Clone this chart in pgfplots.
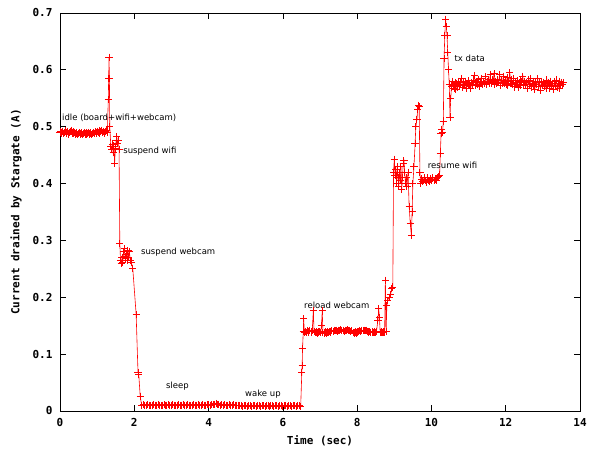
\documentclass[border=0pt]{standalone}
\usepackage{fontspec}
\setmainfont{DejaVu Sans}
\newfontfamily\gpmono{DejaVu Sans Mono}
\usepackage{pgfplots}
\pgfplotsset{compat=1.18}
\usetikzlibrary{calc}

\newcommand{\tickfont}{\gpmono\bfseries\fontsize{11bp}{13bp}\selectfont}
\newcommand{\annfont}{\fontsize{8.5bp}{10bp}\selectfont}

\pgfplotstableread{
t I
0.000 0.490
0.025 0.492
0.050 0.489
0.075 0.491
0.100 0.488
0.125 0.490
0.150 0.493
0.175 0.489
0.200 0.491
0.225 0.487
0.250 0.490
0.275 0.492
0.300 0.494
0.325 0.489
0.350 0.491
0.375 0.488
0.400 0.490
0.425 0.487
0.450 0.489
0.475 0.486
0.500 0.488
0.525 0.490
0.550 0.487
0.575 0.489
0.600 0.486
0.625 0.488
0.650 0.490
0.675 0.487
0.700 0.489
0.725 0.486
0.750 0.488
0.775 0.490
0.800 0.487
0.825 0.489
0.850 0.486
0.875 0.488
0.900 0.490
0.925 0.488
0.950 0.491
0.975 0.489
1.000 0.492
1.025 0.490
1.050 0.493
1.075 0.489
1.100 0.491
1.125 0.494
1.150 0.490
1.175 0.492
1.200 0.489
1.225 0.491
1.250 0.493
1.275 0.490
1.30 0.548
1.31 0.585
1.32 0.622
1.33 0.585
1.34 0.500
1.37 0.465
1.39 0.460
1.41 0.468
1.43 0.455
1.45 0.466
1.47 0.435
1.49 0.462
1.51 0.475
1.53 0.482
1.55 0.470
1.57 0.476
1.59 0.460
1.61 0.295
1.63 0.265
1.65 0.260
1.67 0.270
1.69 0.262
1.71 0.280
1.73 0.285
1.75 0.272
1.77 0.268
1.79 0.276
1.81 0.265
1.83 0.282
1.85 0.270
1.87 0.280
1.89 0.265
1.92 0.262
1.96 0.250
2.05 0.170
2.10 0.068
2.12 0.065
2.16 0.025
2.20 0.010
2.24 0.011
2.28 0.010
2.32 0.010
2.36 0.011
2.40 0.010
2.44 0.009
2.48 0.010
2.52 0.011
2.56 0.010
2.60 0.010
2.64 0.011
2.68 0.010
2.72 0.009
2.76 0.010
2.80 0.011
2.84 0.010
2.88 0.010
2.92 0.011
2.96 0.010
3.00 0.010
3.04 0.011
3.08 0.010
3.12 0.009
3.16 0.010
3.20 0.011
3.24 0.010
3.28 0.010
3.32 0.011
3.36 0.010
3.40 0.010
3.44 0.011
3.48 0.010
3.52 0.009
3.56 0.010
3.60 0.011
3.64 0.010
3.68 0.010
3.72 0.011
3.76 0.010
3.80 0.010
3.84 0.011
3.88 0.010
3.92 0.010
3.96 0.011
4.00 0.011
4.04 0.010
4.08 0.011
4.12 0.011
4.16 0.012
4.20 0.013
4.24 0.011
4.28 0.011
4.32 0.010
4.36 0.011
4.40 0.010
4.44 0.011
4.48 0.010
4.52 0.010
4.56 0.011
4.60 0.010
4.64 0.010
4.68 0.011
4.72 0.010
4.76 0.010
4.80 0.010
4.84 0.009
4.88 0.009
4.92 0.008
4.96 0.009
5.00 0.009
5.04 0.008
5.08 0.009
5.12 0.009
5.16 0.008
5.20 0.009
5.24 0.009
5.28 0.008
5.32 0.009
5.36 0.009
5.40 0.008
5.44 0.009
5.48 0.009
5.52 0.008
5.56 0.009
5.60 0.009
5.64 0.008
5.68 0.009
5.72 0.009
5.76 0.008
5.80 0.009
5.84 0.009
5.88 0.008
5.92 0.009
5.96 0.009
6.00 0.008
6.04 0.009
6.08 0.009
6.12 0.008
6.16 0.009
6.20 0.009
6.24 0.008
6.28 0.009
6.32 0.009
6.36 0.008
6.40 0.009
6.44 0.009
6.48 0.008
6.51 0.067
6.52 0.080
6.53 0.110
6.55 0.140
6.56 0.162
6.58 0.138
6.61 0.140
6.64 0.138
6.67 0.141
6.70 0.139
6.73 0.142
6.76 0.139
6.79 0.141
6.82 0.176
6.84 0.140
6.87 0.138
6.90 0.139
6.93 0.137
6.96 0.139
6.99 0.140
7.02 0.138
7.04 0.150
7.06 0.176
7.08 0.138
7.11 0.137
7.14 0.139
7.17 0.137
7.20 0.139
7.23 0.138
7.26 0.140
7.29 0.139
7.32 0.141
7.35 0.140
7.38 0.142
7.41 0.141
7.44 0.142
7.47 0.140
7.50 0.142
7.53 0.141
7.56 0.143
7.59 0.141
7.62 0.142
7.65 0.140
7.68 0.142
7.71 0.141
7.74 0.143
7.77 0.141
7.80 0.142
7.83 0.140
7.86 0.141
7.89 0.138
7.92 0.137
7.95 0.139
7.98 0.137
8.01 0.139
8.04 0.140
8.07 0.141
8.10 0.140
8.13 0.142
8.16 0.141
8.19 0.142
8.22 0.141
8.25 0.142
8.28 0.140
8.31 0.139
8.34 0.140
8.37 0.138
8.40 0.139
8.43 0.138
8.46 0.139
8.49 0.138
8.52 0.140
8.56 0.160
8.58 0.180
8.60 0.165
8.62 0.138
8.65 0.139
8.68 0.138
8.71 0.139
8.74 0.139
8.76 0.230
8.78 0.140
8.80 0.185
8.82 0.195
8.86 0.200
8.90 0.205
8.93 0.215
8.96 0.218
8.98 0.420
9.00 0.443
9.02 0.415
9.04 0.425
9.06 0.400
9.08 0.430
9.10 0.410
9.12 0.395
9.14 0.420
9.16 0.405
9.18 0.430
9.20 0.390
9.22 0.410
9.24 0.435
9.26 0.440
9.28 0.420
9.30 0.400
9.32 0.410
9.34 0.395
9.37 0.420
9.40 0.360
9.43 0.330
9.46 0.308
9.48 0.350
9.50 0.400
9.53 0.430
9.56 0.470
9.58 0.500
9.61 0.513
9.63 0.530
9.65 0.538
9.67 0.535
9.69 0.420
9.71 0.400
9.74 0.408
9.77 0.403
9.80 0.410
9.83 0.405
9.86 0.402
9.89 0.410
9.92 0.405
9.95 0.403
9.98 0.408
10.01 0.406
10.04 0.410
10.07 0.405
10.10 0.408
10.13 0.406
10.16 0.410
10.19 0.412
10.22 0.415
10.24 0.453
10.26 0.488
10.28 0.495
10.30 0.490
10.32 0.510
10.34 0.620
10.36 0.660
10.38 0.689
10.40 0.676
10.42 0.660
10.44 0.630
10.46 0.600
10.48 0.575
10.50 0.517
10.52 0.550
10.54 0.570
10.560 0.580
10.585 0.572
10.610 0.568
10.635 0.578
10.660 0.566
10.685 0.576
10.710 0.570
10.735 0.580
10.760 0.572
10.785 0.578
10.810 0.585
10.835 0.569
10.860 0.577
10.885 0.574
10.910 0.580
10.935 0.568
10.960 0.576
10.985 0.573
11.010 0.581
11.035 0.575
11.060 0.568
11.085 0.578
11.110 0.574
11.135 0.582
11.160 0.590
11.185 0.572
11.210 0.579
11.235 0.575
11.260 0.583
11.285 0.571
11.310 0.577
11.335 0.585
11.360 0.578
11.385 0.574
11.410 0.580
11.435 0.576
11.460 0.588
11.485 0.574
11.510 0.579
11.535 0.583
11.560 0.577
11.585 0.592
11.610 0.576
11.635 0.582
11.660 0.579
11.685 0.593
11.710 0.574
11.735 0.580
11.760 0.576
11.785 0.583
11.810 0.578
11.835 0.592
11.860 0.572
11.885 0.582
11.910 0.576
11.935 0.589
11.960 0.577
11.985 0.580
12.010 0.575
12.035 0.586
12.060 0.572
12.085 0.579
12.110 0.595
12.135 0.576
12.160 0.582
12.185 0.574
12.210 0.585
12.235 0.570
12.260 0.578
12.285 0.575
12.310 0.581
12.335 0.569
12.360 0.577
12.385 0.582
12.410 0.573
12.435 0.579
12.460 0.589
12.485 0.572
12.510 0.580
12.535 0.574
12.560 0.578
12.585 0.568
12.610 0.582
12.635 0.575
12.660 0.585
12.685 0.570
12.710 0.576
12.735 0.572
12.760 0.580
12.785 0.566
12.810 0.578
12.835 0.574
12.860 0.584
12.885 0.570
12.910 0.577
12.935 0.564
12.960 0.580
12.985 0.573
13.010 0.578
13.035 0.571
13.060 0.576
13.085 0.567
13.110 0.582
13.135 0.573
13.160 0.577
13.185 0.568
13.210 0.580
13.235 0.571
13.260 0.576
13.285 0.566
13.310 0.579
13.335 0.572
13.360 0.582
13.385 0.570
13.410 0.576
13.435 0.567
13.460 0.580
13.485 0.573
13.510 0.578
13.535 0.574
13.550 0.577
}\current

\begin{document}
\begin{tikzpicture}
\begin{axis}[
  scale only axis, width=520bp, height=398bp,
  xmin=0, xmax=14, ymin=0, ymax=0.7,
  xtick={0,2,4,6,8,10,12,14},
  ytick={0,0.1,0.2,0.3,0.4,0.5,0.6,0.7},
  yticklabels={0,0.1,0.2,0.3,0.4,0.5,0.6,0.7},
  /pgf/number format/assume math mode=true,
  tick label style={font=\tickfont},
  xticklabel style={yshift=-4bp},
  yticklabel style={xshift=-4bp},
  label style={font=\tickfont},
  xlabel={Time (sec)},
  ylabel={Current drained by Stargate (A)},
  xlabel style={anchor=center, at={(axis description cs:0.5,-0.0754)}},
  ylabel style={anchor=center, at={(axis description cs:-0.0846,0.5)}},
  major tick length=6bp,
  tick style={black, line width=0.7bp},
  axis line style={line width=0.8bp},
]
\addplot[color=red, line width=0.6bp, mark=+, mark size=3.6bp,
  mark options={draw=red, fill=red, solid, line width=1bp}] table[x=t, y=I] {\current};
\node[anchor=west, inner sep=0, font=\annfont] at (axis cs:0.054,0.515) {idle (board+wifi+webcam)};
\node[anchor=west, inner sep=0, font=\annfont] at (axis cs:1.70,0.4565) {suspend wifi};
\node[anchor=west, inner sep=0, font=\annfont] at (axis cs:2.18,0.280) {suspend webcam};
\node[anchor=west, inner sep=0, font=\annfont] at (axis cs:2.85,0.0445) {sleep};
\node[anchor=west, inner sep=0, font=\annfont] at (axis cs:4.98,0.0294) {wake up};
\node[anchor=west, inner sep=0, font=\annfont] at (axis cs:6.57,0.185) {reload webcam};
\node[anchor=west, inner sep=0, font=\annfont] at (axis cs:9.90,0.432) {resume wifi};
\node[anchor=west, inner sep=0, font=\annfont] at (axis cs:10.62,0.621) {tx data};
\end{axis}
\pgfresetboundingbox
\path ($(current axis.south west)+(-60bp,-38bp)$) rectangle ($(current axis.north east)+(9bp,13bp)$);
\end{tikzpicture}
\end{document}
